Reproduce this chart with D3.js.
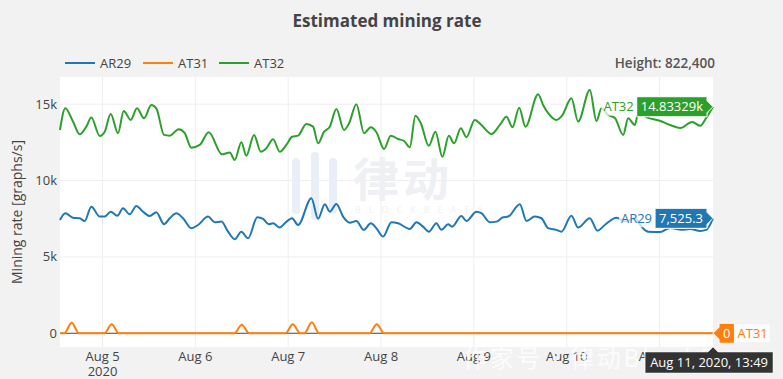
<!DOCTYPE html>
<html><head><meta charset="utf-8">
<script src="https://cdn.jsdelivr.net/npm/d3@7"></script>
<style>
body{margin:0;background:#f2f2f2;}
svg{display:block;font-family:"Open Sans",sans-serif;}
</style>
</head><body>
<svg id="c" width="783" height="379"></svg>
<script>
// ---- data (hours since Aug 4 2020 13:00, values in graphs/s) ----
const seriesNames = ["AR29", "AT31", "AT32"];
const seriesColors = ["#1f77b4", "#ff7f0e", "#2ca02c"];
const hoursAR29 = [0,1.37,3.36,5.09,6.39,8.09,10.27,11.56,13.11,14.82,16.29,18.02,19.73,21.46,23.2,24.9,26.9,28.37,30.08,31.81,33.95,35.69,38.27,40.0,41.71,43.45,45.18,46.88,48.62,51.02,52.5,53.97,55.08,56.82,58.11,60.0,61.55,64.99,66.72,68.46,69.75,71.45,73.18,74.92,76.62,78.54,80.35,81.8,83.53,85.68,87.41,90.44,92.14,93.87,95.35,97.31,98.6,100.34,101.37,103.78,105.07,107.66,108.95,111.12,112.83,114.56,115.85,118.88,120.59,122.76,124.47,126.2,128.35,129.64,132.22,133.95,136.98,138.95,140.86,143.86,146.36,148.62,150.32,152.07,155.17,157.76,160.61,162.94,165.52,167.07,168.82];
const valuesAR29 = [7420,7860,7570,7530,7350,8290,7640,7640,7960,7700,8190,7790,8340,7960,7680,7920,7140,7530,7860,7530,6880,7090,7640,7270,7310,6650,6160,6650,6220,7600,7490,7140,7200,6920,7200,7530,7090,8840,7490,8450,7960,8470,7640,7240,7350,6770,7200,6880,6330,7270,7200,6830,7270,6980,6650,7200,6770,7140,6980,7680,7350,7960,7860,7270,7310,7600,7640,8450,7350,7640,7530,6880,6770,6650,7700,6920,7530,6720,7090,7570,7310,7530,6980,6650,6630,6900,6770,6830,6700,6770,7525.3];
const hoursAT31 = [0,1.1,3.03,4.9,11.5,13.37,15.2,45.1,46.99,48.9,58.3,60.18,62.1,63.2,65.09,67.0,80.0,81.9,83.8,168.82];
const valuesAT31 = [0,0,690,0,0,590,0,0,550,0,0,590,0,0,720,0,0,590,0,0];
const hoursAT32 = [0,1.37,3.36,5.09,6.8,8.09,10.27,11.56,13.11,15.0,16.47,18.28,19.91,21.72,23.61,24.9,26.9,28.37,30.7,32.25,33.95,36.13,38.45,41.89,43.0,43.88,45.18,46.88,48.18,50.17,51.9,53.35,55.08,56.82,58.52,60.0,61.55,63.69,65.43,66.72,68.27,69.75,71.45,73.44,74.74,76.62,78.61,80.35,81.8,83.79,85.52,87.41,88.96,90.44,91.88,93.28,95.35,97.06,98.86,100.52,101.89,103.62,105.07,107.24,108.95,111.54,113.71,115.42,116.97,118.71,120.33,123.61,124.9,126.2,128.35,129.8,132.22,133.95,136.98,138.69,139.98,141.71,143.45,145.6,146.89,148.62,149.48,152.07,155.17,157.76,160.35,163.45,165.52,167.07,168.82];
const valuesAT32 = [13310,14730,13860,13030,13530,14120,12920,13200,14360,13100,14560,13970,14730,14080,14950,14730,12990,12940,13360,13100,12150,12330,13160,11720,11790,11830,11350,12510,11630,12990,11890,12120,12700,11890,12330,12870,12940,13710,13530,12440,13200,13530,14690,13310,13750,15000,13100,13490,13160,12070,12940,12720,12590,12180,14250,13750,12270,13200,11550,12940,12440,13430,12840,13970,13640,13050,13640,14180,13490,14770,13530,15650,14950,14410,13970,14250,15390,13860,15930,13900,14730,14300,14100,12990,14080,13640,14410,14100,13900,13640,13440,13840,13580,14100,14833.29];
const yTicks = [0, 5000, 10000, 15000];
const xTickDays = [5, 6, 7, 8, 9, 10, 11];
const hoverLabels = ["14.83329k", "7,525.3", "0"];
const hoverTime = "Aug 11, 2020, 13:49";
const titleText = "Estimated mining rate";
const heightText = "Height: 822,400";
const yTitle = "Mining rate [graphs/s]";

// ---- setup ----
const svg = d3.select("#c");
const W = 783, H = 379;
const M = {l: 60, r: 70, t: 77, b: 32};
const start = new Date(2020, 7, 4, 13, 0);
const toDate = h => new Date(start.getTime() + h * 3600e3);
const x = d3.scaleTime().domain([start, toDate(168.82)]).range([M.l, W - M.r]);
const y = d3.scaleLinear().domain([-900, 16780]).range([H - M.b, M.t]);

svg.append("rect").attr("width", W).attr("height", H).attr("fill", "#f2f2f2");
svg.append("rect").attr("x", M.l).attr("y", M.t).attr("width", W - M.r - M.l).attr("height", H - M.b - M.t).attr("fill", "#fff");

// grid
const g = svg.append("g");
const dayDates = xTickDays.map(d => new Date(2020, 7, d));
g.selectAll(".vx").data(dayDates).join("line")
  .attr("x1", d => x(d)).attr("x2", d => x(d)).attr("y1", M.t).attr("y2", H - M.b)
  .attr("stroke", "#eee").attr("stroke-width", 1);
g.selectAll(".hy").data(yTicks.filter(v => v !== 0)).join("line")
  .attr("x1", M.l).attr("x2", W - M.r).attr("y1", d => y(d)).attr("y2", d => y(d))
  .attr("stroke", "#eee").attr("stroke-width", 1);

// faint watermark in plot
const wm = svg.append("g");
[[292, 158, 56], [311, 152, 68], [329, 158, 56]].forEach(([bx, by, bh]) => {
  wm.append("rect").attr("x", bx).attr("y", by).attr("width", 8).attr("height", bh).attr("rx", 4).attr("fill", "#eaeef8");
});
wm.append("text").attr("x", 353).attr("y", 196).attr("font-size", 46).attr("font-family", "Noto Sans CJK SC")
  .attr("font-weight", 700).attr("letter-spacing", 4).attr("fill", "#eef0f4").text("律动");
wm.append("text").attr("x", 355).attr("y", 213).attr("font-size", 9).attr("letter-spacing", 8).attr("fill", "#f0f1f4").text("BLOCKBEATS");

// zero line
svg.append("line").attr("x1", M.l).attr("x2", W - M.r).attr("y1", y(0)).attr("y2", y(0)).attr("stroke", "#444").attr("stroke-width", 1);

// series
const series = [
  {name: "AR29", h: hoursAR29, v: valuesAR29},
  {name: "AT31", h: hoursAT31, v: valuesAT31},
  {name: "AT32", h: hoursAT32, v: valuesAT32}
];
const line = d3.line().x(d => x(toDate(d[0]))).y(d => y(d[1])).curve(d3.curveMonotoneX);
series.forEach((s, i) => {
  const pts = s.h.map((h, j) => [h, s.v[j]]);
  svg.append("path").attr("d", line(pts)).attr("fill", "none")
    .attr("stroke", seriesColors[i]).attr("stroke-width", 2).attr("stroke-linejoin", "round");
});

// axes labels
const fs = 13;
svg.selectAll(".yt").data(yTicks).join("text")
  .attr("x", M.l - 3).attr("y", d => y(d) + 4.5).attr("text-anchor", "end")
  .attr("font-size", fs).attr("fill", "#444").text(d => d === 0 ? "0" : d3.format("~s")(d));
svg.selectAll(".xt").data(dayDates).join("text")
  .attr("x", d => x(d)).attr("y", 361).attr("text-anchor", "middle")
  .attr("font-size", fs).attr("fill", "#444").text(d3.timeFormat("%b %-d"));
svg.append("text").attr("x", x(dayDates[0])).attr("y", 376).attr("text-anchor", "middle")
  .attr("font-size", fs).attr("fill", "#444").text("2020");
svg.append("text").attr("transform", `translate(22,${(M.t + H - M.b) / 2}) rotate(-90)`)
  .attr("text-anchor", "middle").attr("font-size", 14).attr("fill", "#444").text(yTitle);

// title
svg.append("text").attr("x", 387).attr("y", 27).attr("text-anchor", "middle")
  .attr("font-size", 17).attr("font-weight", 700).attr("fill", "#444").text(titleText);

// legend
const legX = [65, 143, 219];
seriesNames.forEach((n, i) => {
  svg.append("line").attr("x1", legX[i]).attr("x2", legX[i] + 30).attr("y1", 63).attr("y2", 63)
    .attr("stroke", seriesColors[i]).attr("stroke-width", 2);
  svg.append("text").attr("x", legX[i] + 35).attr("y", 67.5).attr("font-size", fs).attr("fill", "#444").text(n);
});
svg.append("text").attr("x", 715).attr("y", 68).attr("text-anchor", "end").attr("font-size", 13.5)
  .attr("font-weight", 600).attr("fill", "#555").text(heightText);

// bottom watermark text (drawn under the hover label)
svg.append("text").attr("x", 463).attr("y", 367).attr("font-size", 24)
  .attr("font-family", "Noto Sans CJK SC").attr("fill", "#fff").attr("opacity", 0.8)
  .attr("textLength", 310).attr("lengthAdjust", "spacing").text("作家号·律动BlockBeats");

// hover labels
const tipX = x(toDate(168.82));
function hover(val, name, color, yy, side) {
  const hg = svg.append("g");
  const t = hg.append("text").attr("font-size", fs).attr("fill", "#fff").text(val);
  const tw = t.node().getComputedTextLength();
  const bw = tw + 8, bh = 20;
  let bx0, path;
  if (side === "left") {
    bx0 = tipX - 6 - bw;
    path = `M${tipX},${yy} L${tipX - 6},${yy - 6} L${tipX - 6},${yy - bh / 2} L${bx0},${yy - bh / 2} L${bx0},${yy + bh / 2} L${tipX - 6},${yy + bh / 2} L${tipX - 6},${yy + 6} Z`;
  } else {
    bx0 = tipX + 6;
    path = `M${tipX},${yy} L${tipX + 6},${yy - 6} L${tipX + 6},${yy - bh / 2} L${bx0 + bw},${yy - bh / 2} L${bx0 + bw},${yy + bh / 2} L${tipX + 6},${yy + bh / 2} L${tipX + 6},${yy + 6} Z`;
  }
  hg.insert("path", "text").attr("d", path).attr("fill", color).attr("stroke", "#fff").attr("stroke-width", 1);
  t.attr("x", bx0 + 4).attr("y", yy + 4.5);
  const nt = hg.append("text").attr("font-size", fs).attr("fill", color).text(name);
  const nw = nt.node().getComputedTextLength();
  const nx = side === "left" ? bx0 - nw - 3 : bx0 + bw + 3;
  nt.attr("x", nx).attr("y", yy + 4.5);
  hg.insert("rect", "text:last-child").attr("x", nx - 2).attr("y", yy - 9).attr("width", nw + 4).attr("height", 18)
    .attr("fill", "#fff").attr("opacity", 0.75);
}
hover(hoverLabels[0], "AT32", seriesColors[2], y(valuesAT32[valuesAT32.length - 1]), "left");
hover(hoverLabels[1], "AR29", seriesColors[0], y(valuesAR29[valuesAR29.length - 1]), "left");
hover(hoverLabels[2], "AT31", seriesColors[1], y(0), "right");

// x hover label
const xg = svg.append("g");
const xt = xg.append("text").attr("font-size", fs).attr("fill", "#fff").attr("text-anchor", "middle").text(hoverTime);
const xw = xt.node().getComputedTextLength() + 10;
const xc = Math.min(tipX, W - 10 - xw / 2);
const yb = H - M.b;
xg.insert("path", "text").attr("d",
  `M${tipX},${yb} L${tipX + 5},${yb + 5} L${xc + xw / 2},${yb + 5} L${xc + xw / 2},${yb + 26} L${xc - xw / 2},${yb + 26} L${xc - xw / 2},${yb + 5} L${tipX - 5},${yb + 5} Z`)
  .attr("fill", "#333").attr("stroke", "#fff").attr("stroke-width", 0.5);
xt.attr("x", xc).attr("y", yb + 20);
</script>
</body></html>
